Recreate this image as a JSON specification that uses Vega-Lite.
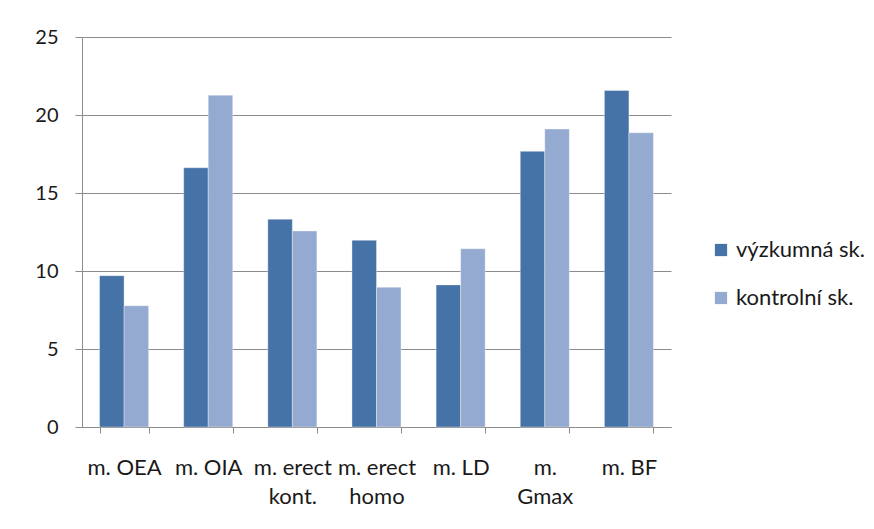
{
  "$schema": "https://vega.github.io/schema/vega-lite/v6.json",
  "autosize": "none",
  "width": 589,
  "height": 390,
  "padding": {"left": 82, "top": 37, "right": 203, "bottom": 102},
  "background": "white",
  "data": {
    "values": [
      {"sval": "m. OEA", "skupina": "výzkumná sk.", "hodnota": 9.7},
      {"sval": "m. OEA", "skupina": "kontrolní sk.", "hodnota": 7.77},
      {"sval": "m. OIA", "skupina": "výzkumná sk.", "hodnota": 16.62},
      {"sval": "m. OIA", "skupina": "kontrolní sk.", "hodnota": 21.27},
      {"sval": "m. erect\nkont.", "skupina": "výzkumná sk.", "hodnota": 13.32},
      {"sval": "m. erect\nkont.", "skupina": "kontrolní sk.", "hodnota": 12.57},
      {"sval": "m. erect\nhomo", "skupina": "výzkumná sk.", "hodnota": 11.97},
      {"sval": "m. erect\nhomo", "skupina": "kontrolní sk.", "hodnota": 8.96},
      {"sval": "m. LD", "skupina": "výzkumná sk.", "hodnota": 9.11},
      {"sval": "m. LD", "skupina": "kontrolní sk.", "hodnota": 11.43},
      {"sval": "m.\nGmax", "skupina": "výzkumná sk.", "hodnota": 17.67},
      {"sval": "m.\nGmax", "skupina": "kontrolní sk.", "hodnota": 19.1},
      {"sval": "m. BF", "skupina": "výzkumná sk.", "hodnota": 21.57},
      {"sval": "m. BF", "skupina": "kontrolní sk.", "hodnota": 18.86}
    ]
  },
  "mark": {"type": "bar", "stroke": "#ffffff", "strokeOpacity": 0.35, "strokeWidth": 1},
  "encoding": {
    "x": {
      "field": "sval",
      "type": "nominal",
      "sort": null,
      "title": null,
      "scale": {"paddingInner": 0.417, "paddingOuter": 0.2085},
      "axis": {
        "labelAngle": 0,
        "labelExpr": "split(datum.label, '\\n')",
        "labelFont": "Lato",
        "labelFontSize": 22,
        "labelColor": "#1a1a1a",
        "labelLineHeight": 29,
        "labelPadding": 24,
        "labelBaseline": "top",
        "labelOverlap": false,
        "tickBand": "extent",
        "ticks": true,
        "tickSize": 6,
        "tickColor": "#8c8c8c",
        "domainColor": "#8c8c8c",
        "grid": false
      }
    },
    "xOffset": {
      "field": "skupina",
      "type": "nominal",
      "sort": ["výzkumná sk.", "kontrolní sk."]
    },
    "y": {
      "field": "hodnota",
      "type": "quantitative",
      "title": null,
      "scale": {"domain": [0, 25], "nice": false},
      "axis": {
        "values": [0, 5, 10, 15, 20, 25],
        "labelFont": "Lato",
        "labelFontSize": 20,
        "labelColor": "#1a1a1a",
        "labelPadding": 17,
        "tickSize": 7,
        "tickColor": "#8c8c8c",
        "domainColor": "#8c8c8c",
        "gridColor": "#8c8c8c",
        "gridWidth": 1
      }
    },
    "color": {
      "field": "skupina",
      "type": "nominal",
      "sort": ["výzkumná sk.", "kontrolní sk."],
      "scale": {"range": ["#4673a7", "#95aad0"]},
      "legend": {
        "title": null,
        "orient": "none",
        "legendX": 628,
        "legendY": 202,
        "symbolType": "square",
        "symbolSize": 150,
        "symbolStrokeWidth": 0,
        "labelFont": "Lato",
        "labelFontSize": 22,
        "labelColor": "#1a1a1a",
        "labelOffset": 4,
        "rowPadding": 26,
        "labelLimit": 200
      }
    }
  },
  "config": {
    "view": {"stroke": null}
  }
}
